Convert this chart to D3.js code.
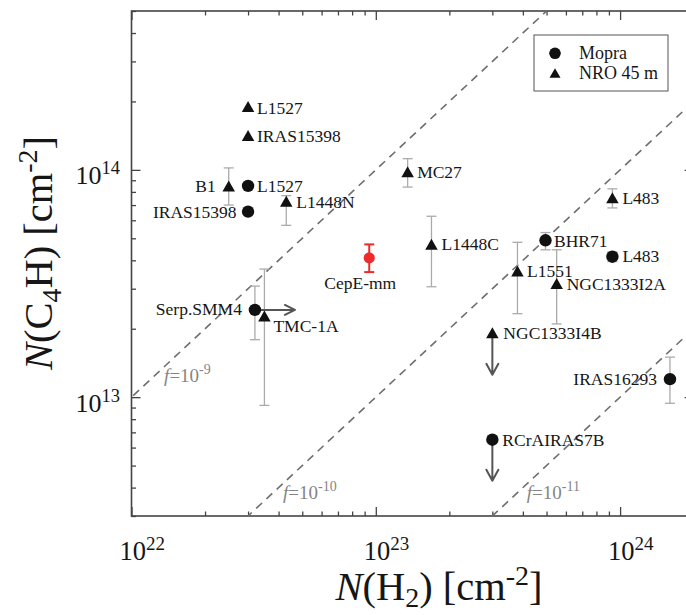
<!DOCTYPE html>
<html>
<head>
<meta charset="utf-8">
<script src="https://cdn.jsdelivr.net/npm/d3@7"></script>
<style>
  html, body { margin: 0; padding: 0; background: #fff; }
  svg { display: block; font-family: "Liberation Serif", "Times New Roman", serif; }
</style>
</head>
<body>
<svg id="chart" width="686" height="615"></svg>
<script>
// ---------------- DATA ----------------
const sources    = ["L1527", "IRAS15398", "B1", "L1527", "IRAS15398", "L1448N", "CepE-mm",
                    "Serp.SMM4", "TMC-1A", "MC27", "L1448C", "BHR71", "L483", "L483",
                    "L1551", "NGC1333I2A", "NGC1333I4B", "IRAS16293", "RCrAIRAS7B"];
const telescope  = ["NRO", "NRO", "NRO", "Mopra", "Mopra", "NRO", "this",
                    "Mopra", "NRO", "NRO", "NRO", "Mopra", "NRO", "Mopra",
                    "NRO", "NRO", "NRO", "Mopra", "Mopra"];
const nH2        = [3.0e22, 3.0e22, 2.5e22, 3.0e22, 3.0e22, 4.3e22, 9.4e22,
                    3.2e22, 3.5e22, 1.35e23, 1.69e23, 4.95e23, 9.3e23, 9.3e23,
                    3.8e23, 5.5e23, 3.0e23, 1.6e24, 3.0e23];
const nC4H       = [1.88e14, 1.40e14, 8.4e13, 8.5e13, 6.55e13, 7.2e13, 4.1e13,
                    2.42e13, 2.25e13, 9.7e13, 4.65e13, 4.9e13, 7.45e13, 4.15e13,
                    3.55e13, 3.13e13, 1.9e13, 1.2e13, 6.5e12];
const nC4HLow    = [null, null, 7.0e13, null, null, 5.7e13, 3.55e13,
                    1.79e13, 9.2e12, 8.4e13, 3.06e13, 4.45e13, 6.8e13, 3.95e13,
                    2.33e13, 2.1e13, null, 9.4e12, null];
const nC4HHigh   = [null, null, 1.02e14, null, null, 7.7e13, 4.7e13,
                    3.08e13, 3.66e13, 1.12e14, 6.25e13, 5.3e13, 8.25e13, 4.35e13,
                    4.8e13, 4.45e13, null, 1.5e13, null];
// limit arrows: "right" = lower limit on N(H2), "down" = upper limit on N(C4H)
const limitType  = [null, null, null, null, null, null, null,
                    "right", null, null, null, null, null, null,
                    null, null, "down", null, "down"];
const fValues    = [1e-9, 1e-10, 1e-11];
const fExponents = ["-9", "-10", "-11"];
const fLabelNH2  = [1.36e22, 4.17e22, 4.15e23];
const xMajorTicks = [1e22, 1e23, 1e24];
const xTickExp    = ["22", "23", "24"];
const yMajorTicks = [1e13, 1e14];
const yTickExp    = ["13", "14"];
const legendItems = ["Mopra", "NRO 45 m"];

// --------------- LAYOUT / STYLE ---------------
// label offsets (px) relative to marker centre: [dx, dy, anchor]
const labelPlace = [
  [9, 6.5, "start"], [9, 5.5, "start"], [-13, 5, "end"], [9, 6, "start"], [-11.5, 6, "end"],
  [10, 6, "start"], [-9, 31.5, "middle"], [-13, 5, "end"], [9, 15, "start"], [9.5, 5, "start"],
  [10, 5, "start"], [8.5, 6.5, "start"], [10, 5, "start"], [10, 5, "start"], [9.5, 5, "start"],
  [10, 5, "start"], [11, 5, "start"], [-13, 5.5, "end"], [10, 6.5, "start"]
];

const svg = d3.select("#chart");
const X0 = 131.5, DEC_X = 244.3;
const x = d3.scaleLog().domain([1e22, 2e24]).range([X0, X0 + DEC_X * Math.log10(200)]);
const y = d3.scaleLog().domain([3e12, 5e14]).range([516, 11]);
const [xl, xr] = x.range();
const [yb, yt] = y.range();

const frameColor = "#444";
const textColor = "#161616";

// clip
svg.append("defs").append("clipPath").attr("id", "plotclip")
  .append("rect").attr("x", xl).attr("y", yt).attr("width", xr - xl).attr("height", yb - yt);

// minor ticks
function minorTicks(lo, hi) {
  const out = [];
  for (let e = Math.floor(Math.log10(lo)); e <= Math.ceil(Math.log10(hi)); e++) {
    for (let m = 1; m <= 9; m++) {
      const v = m * Math.pow(10, e);
      if (v >= lo * 0.9999 && v <= hi * 1.0001) out.push(v);
    }
  }
  return out;
}
const xAll = minorTicks(1e22, 2e24);
const yAll = minorTicks(3e12, 5e14);
const isMajor = v => Math.abs(Math.log10(v) - Math.round(Math.log10(v))) < 1e-9;

function drawAxis(gen, transform, values, size) {
  const g = svg.append("g").attr("transform", transform)
    .call(gen.tickValues(values).tickSize(size).tickFormat(""));
  g.select(".domain").remove();
  g.selectAll(".tick line").attr("stroke", frameColor).attr("stroke-width", 1.3);
}
const xMinor = xAll.filter(v => !isMajor(v)), xMaj = xAll.filter(isMajor);
const yMinor = yAll.filter(v => !isMajor(v)), yMaj = yAll.filter(isMajor);
drawAxis(d3.axisBottom(x), `translate(0,${yb})`, xMinor, -4.5);
drawAxis(d3.axisBottom(x), `translate(0,${yb})`, xMaj, -9);
drawAxis(d3.axisTop(x), `translate(0,${yt})`, xMinor, -4.5);
drawAxis(d3.axisTop(x), `translate(0,${yt})`, xMaj, -9);
drawAxis(d3.axisLeft(y), `translate(${xl},0)`, yMinor, -4.5);
drawAxis(d3.axisLeft(y), `translate(${xl},0)`, yMaj, -9);
drawAxis(d3.axisRight(y), `translate(${xr},0)`, yMinor, -4.5);
drawAxis(d3.axisRight(y), `translate(${xr},0)`, yMaj, -9);

// frame
svg.append("rect").attr("x", xl).attr("y", yt).attr("width", xr - xl).attr("height", yb - yt)
  .attr("fill", "none").attr("stroke", frameColor).attr("stroke-width", 1.6);

// tick labels
xMajorTicks.forEach((v, i) => {
  const t = svg.append("text").attr("x", x(v) - 12).attr("y", 560)
    .attr("fill", textColor).attr("font-size", 26.5);
  t.append("tspan").text("10");
  t.append("tspan").attr("dy", -10).attr("font-size", 19).text(xTickExp[i]);
});
yMajorTicks.forEach((v, i) => {
  const t = svg.append("text").attr("x", 120).attr("y", y(v) + 14.5)
    .attr("text-anchor", "end").attr("fill", textColor).attr("font-size", 26);
  t.append("tspan").text("10");
  t.append("tspan").attr("dy", -10).attr("font-size", 18.5).text(yTickExp[i]);
});

// axis titles
{
  const t = svg.append("text").attr("x", 439).attr("y", 600).attr("text-anchor", "middle")
    .attr("fill", textColor).attr("font-size", 40.5);
  t.append("tspan").attr("font-style", "italic").text("N");
  t.append("tspan").text("(H");
  t.append("tspan").attr("font-size", 28).attr("dy", 7).text("2");
  t.append("tspan").attr("dy", -7).text(") [cm");
  t.append("tspan").attr("font-size", 28).attr("dy", -15).text("-2");
  t.append("tspan").attr("dy", 15).text("]");
}
{
  const t = svg.append("text").attr("transform", "translate(52,253) rotate(-90)")
    .attr("text-anchor", "middle").attr("fill", textColor).attr("font-size", 40.5);
  t.append("tspan").attr("font-style", "italic").text("N");
  t.append("tspan").text("(C");
  t.append("tspan").attr("font-size", 28).attr("dy", 9).text("4");
  t.append("tspan").attr("dy", -9).text("H) [cm");
  t.append("tspan").attr("font-size", 28).attr("dy", -15).text("-2");
  t.append("tspan").attr("dy", 15).text("]");
}

// diagonal f lines
const plot = svg.append("g").attr("clip-path", "url(#plotclip)");
fValues.forEach(f => {
  const pts = [1e21, 1e25].map(n => [x(n), y(f * n)]);
  plot.append("line").attr("x1", pts[0][0]).attr("y1", pts[0][1])
    .attr("x2", pts[1][0]).attr("y2", pts[1][1])
    .attr("stroke", "#6e6e6e").attr("stroke-width", 1.6).attr("stroke-dasharray", "8,6");
});
fValues.forEach((f, i) => {
  const n = fLabelNH2[i];
  const t = svg.append("text").attr("x", x(n)).attr("y", y(f * n) + 15.5)
    .attr("fill", "#858585").attr("font-size", 19);
  t.append("tspan").attr("font-style", "italic").text("f");
  t.append("tspan").text("=10");
  t.append("tspan").attr("dy", -8).attr("font-size", 14).text(fExponents[i]);
});

// error bars
const errG = svg.append("g");
sources.forEach((s, i) => {
  if (nC4HLow[i] == null) return;
  const col = telescope[i] === "this" ? "#ee2a2a" : "#ababab";
  const w = telescope[i] === "this" ? 2 : 1.3;
  const cx = x(nH2[i]), y1 = y(nC4HHigh[i]), y2 = y(nC4HLow[i]);
  errG.append("line").attr("x1", cx).attr("x2", cx).attr("y1", y1).attr("y2", y2)
    .attr("stroke", col).attr("stroke-width", w);
  [y1, y2].forEach(yy => errG.append("line").attr("x1", cx - 5).attr("x2", cx + 5)
    .attr("y1", yy).attr("y2", yy).attr("stroke", col).attr("stroke-width", w));
});

// limit arrows
const arrG = svg.append("g").attr("stroke", "#555").attr("stroke-width", 2)
  .attr("fill", "none").attr("stroke-linecap", "round").attr("stroke-linejoin", "round");
sources.forEach((s, i) => {
  const cx = x(nH2[i]), cy = y(nC4H[i]);
  if (limitType[i] === "right") {
    const L = 40;
    arrG.append("path").attr("d", `M${cx},${cy}H${cx + L}M${cx + L - 10},${cy - 5}L${cx + L},${cy}L${cx + L - 10},${cy + 5}`);
  } else if (limitType[i] === "down") {
    const L = 41;
    arrG.append("path").attr("d", `M${cx},${cy}V${cy + L}M${cx - 6},${cy + L - 11}L${cx},${cy + L}L${cx + 6},${cy + L - 11}`);
  }
});

// markers
const triPath = (cx, cy, w, h) => `M${cx},${cy - h * 0.6}L${cx + w / 2},${cy + h * 0.4}L${cx - w / 2},${cy + h * 0.4}Z`;
const mk = svg.append("g");
sources.forEach((s, i) => {
  const cx = x(nH2[i]), cy = y(nC4H[i]);
  if (telescope[i] === "NRO") {
    mk.append("path").attr("d", triPath(cx, cy, 12.5, 11)).attr("fill", "#111");
  } else if (telescope[i] === "Mopra") {
    mk.append("circle").attr("cx", cx).attr("cy", cy).attr("r", 6.2).attr("fill", "#111");
  } else {
    mk.append("circle").attr("cx", cx).attr("cy", cy).attr("r", 5.6).attr("fill", "#ee2a2a");
  }
});

// labels
const lab = svg.append("g").attr("font-size", 17.5).attr("fill", textColor);
sources.forEach((s, i) => {
  const [dx, dy, anchor] = labelPlace[i];
  lab.append("text").attr("x", x(nH2[i]) + dx).attr("y", y(nC4H[i]) + dy)
    .attr("text-anchor", anchor).text(s);
});

// legend
const lg = svg.append("g");
lg.append("rect").attr("x", 534).attr("y", 35).attr("width", 134).attr("height", 56)
  .attr("fill", "#fff").attr("stroke", "#555").attr("stroke-width", 1);
lg.append("circle").attr("cx", 555).attr("cy", 53.3).attr("r", 5.8).attr("fill", "#111");
lg.append("path").attr("d", triPath(555, 74, 11, 9.5)).attr("fill", "#111");
legendItems.forEach((t, i) => {
  lg.append("text").attr("x", 579).attr("y", 59 + i * 20).attr("font-size", 18)
    .attr("fill", textColor).text(t);
});
</script>
</body>
</html>
